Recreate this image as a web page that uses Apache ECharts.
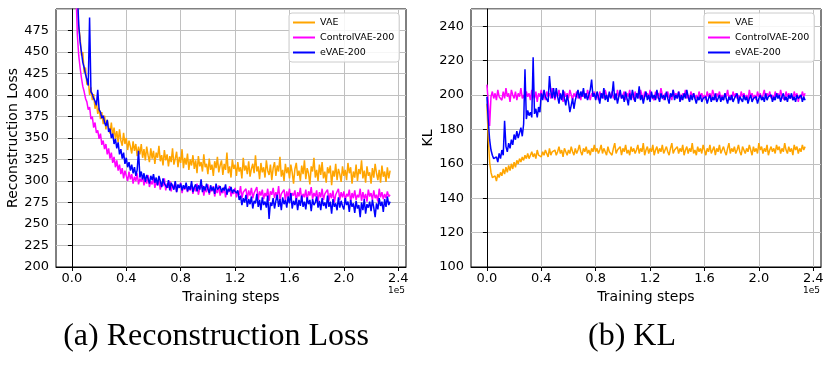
<!DOCTYPE html>
<html>
<head>
<meta charset="utf-8">
<script src="https://cdn.jsdelivr.net/npm/echarts@6.0.0/dist/echarts.min.js"></script>
<style>
  html, body { margin: 0; padding: 0; background: #fff; }
  #main { width: 830px; height: 373px; }
</style>
</head>
<body>
<div id="main"></div>
<script>
// training steps are in units of 1e5, one logged point every 0.01 (= 1000 steps)
var xTicks = [0.0, 0.4, 0.8, 1.2, 1.6, 2.0, 2.4];
var seriesNames = ['VAE', 'ControlVAE-200', 'eVAE-200'];

// (a) reconstruction loss
var lossVAE = [
  800, 700, 620, 560, 512, 478, 468, 446, 450, 426,
  432, 412, 418, 400, 409, 394, 401, 384, 392, 378,
  385, 372, 380, 366, 376, 360, 371, 363, 355, 368,
  352, 362, 349, 358, 345, 360, 347, 341, 356, 343,
  350, 336, 347, 340, 332, 346, 335, 343, 329, 340,
  331, 343, 327, 337, 324, 340, 330, 322, 338, 326,
  335, 320, 333, 327, 341, 323, 330, 318, 336, 324,
  331, 317, 329, 322, 338, 319, 326, 334, 316, 328,
  321, 337, 315, 327, 319, 332, 313, 325, 318, 330,
  314, 324, 309, 329, 317, 322, 311, 331, 316, 320,
  308, 326, 313, 319, 306, 323, 315, 328, 310, 318,
  324, 307, 320, 313, 333, 309, 317, 304, 325, 314,
  319, 306, 322, 311, 316, 303, 327, 312, 318, 308,
  323, 305, 314, 320, 309, 330, 311, 317, 302, 321,
  310, 316, 304, 324, 312, 307, 319, 301, 315, 322,
  306, 318, 311, 328, 305, 313, 300, 320, 309, 316,
  303, 319, 310, 297, 314, 321, 306, 312, 300, 318,
  308, 324, 302, 315, 309, 296, 317, 311, 327, 304,
  313, 300, 319, 307, 322, 303, 311, 298, 316, 309,
  318, 295, 312, 305, 320, 301, 314, 308, 299, 317,
  306, 313, 301, 321, 309, 316, 297, 311, 304, 319,
  300, 314, 308, 324, 303, 312, 298, 317, 306, 310,
  297, 315, 304, 320, 309, 301, 313, 298, 318, 305,
  311, 299, 316, 303, 312];
var lossControl = [
  800, 700, 600, 520, 470, 446, 432, 420, 410, 404,
  396, 392, 383, 386, 372, 375, 362, 368, 356, 359,
  349, 355, 342, 347, 337, 343, 331, 338, 326, 333,
  321, 328, 316, 324, 312, 319, 308, 315, 303, 312,
  306, 300, 311, 302, 308, 297, 305, 300, 309, 296,
  303, 299, 306, 295, 302, 297, 307, 293, 300, 296,
  304, 292, 299, 295, 301, 290, 298, 294, 303, 289,
  297, 292, 300, 288, 296, 291, 299, 287, 295, 292,
  298, 286, 294, 290, 297, 287, 293, 289, 296, 285,
  293, 288, 297, 284, 291, 289, 295, 283, 292, 287,
  296, 284, 291, 288, 294, 282, 290, 286, 295, 283,
  289, 286, 293, 281, 290, 287, 294, 282, 288, 285,
  292, 281, 288, 284, 294, 280, 287, 285, 291, 279,
  289, 283, 292, 280, 286, 284, 293, 278, 288, 283,
  290, 279, 286, 282, 291, 277, 288, 284, 292, 280,
  287, 282, 294, 278, 285, 283, 290, 277, 288, 281,
  291, 279, 286, 283, 289, 276, 287, 282, 292, 278,
  285, 281, 290, 277, 288, 283, 293, 279, 286, 282,
  289, 276, 287, 281, 291, 278, 285, 283, 290, 277,
  286, 280, 289, 275, 284, 282, 291, 278, 287, 281,
  288, 277, 285, 282, 290, 276, 286, 280, 289, 278,
  284, 281, 291, 277, 287, 279, 285, 276, 290, 282,
  286, 278, 289, 280, 284, 276, 291, 281, 287, 279,
  285, 280, 288, 282, 284];
var lossEVAE = [
  820, 740, 640, 560, 520, 482, 462, 450, 438, 432,
  424, 418, 411, 490, 404, 401, 396, 393, 388, 406,
  383, 380, 373, 376, 368, 364, 371, 357, 361, 350,
  355, 343, 349, 338, 345, 331, 337, 326, 333, 320,
  327, 316, 322, 312, 319, 309, 316, 306, 313, 335,
  304, 311, 302, 309, 299, 307, 303, 297, 306, 301,
  308, 298, 304, 295, 306, 300, 293, 303, 297, 299,
  292, 301, 289, 298, 294, 290, 300, 287, 296, 292,
  297, 289, 295, 291, 298, 288, 294, 290, 300, 287,
  293, 296, 288, 295, 290, 302, 287, 294, 289, 297,
  291, 286, 295, 289, 293, 285, 297, 290, 288, 294,
  287, 292, 289, 296, 284, 291, 288, 293, 286, 290,
  292, 286, 289, 278, 283, 272, 280, 275, 284, 270,
  279, 273, 282, 268, 277, 274, 285, 270, 278, 266,
  281, 272, 276, 269, 283, 256, 275, 271, 280, 268,
  277, 284, 270, 279, 266, 281, 273, 278, 269, 282,
  274, 286, 268, 277, 272, 280, 266, 278, 271, 283,
  270, 276, 267, 281, 273, 278, 265, 279, 272, 275,
  282, 269, 277, 266, 280, 271, 275, 268, 283, 270,
  276, 262, 279, 270, 274, 266, 281, 269, 277, 271,
  267, 280, 272, 276, 264, 278, 270, 274, 263, 277,
  268, 272, 258, 275, 266, 279, 262, 273, 269, 276,
  265, 278, 269, 258, 274, 267, 280, 271, 276, 264,
  279, 270, 282, 272, 276];

// (b) KL
var klVAE = [
  195, 175, 161, 155, 152, 151, 153, 150, 154, 152,
  155, 153, 157, 154, 158, 155, 159, 156, 160, 157,
  161, 158, 162, 160, 163, 161, 164, 162, 165, 163,
  166, 163, 165, 167, 164, 166, 163, 168, 165, 166,
  164, 167, 165, 168, 166, 164, 169, 165, 167, 166,
  168, 165, 167, 170, 166, 168, 164, 169, 167, 165,
  168, 166, 170, 167, 165, 169, 166, 168, 171, 167,
  165, 169, 167, 170, 166, 168, 165, 169, 167, 171,
  167, 169, 166, 168, 171, 166, 169, 167, 165, 170,
  167, 168, 165, 169, 172, 166, 168, 167, 170, 165,
  169, 167, 171, 166, 168, 165, 170, 167, 169, 166,
  168, 171, 166, 169, 167, 172, 165, 168, 170, 166,
  169, 167, 171, 165, 168, 170, 166, 169, 167, 171,
  166, 168, 170, 167, 165, 169, 172, 166, 168, 167,
  170, 166, 169, 167, 171, 165, 168, 170, 166, 169,
  167, 172, 166, 168, 165, 170, 167, 169, 166, 171,
  168, 165, 169, 167, 171, 166, 168, 170, 165, 169,
  167, 171, 166, 168, 170, 167, 165, 169, 172, 166,
  169, 167, 170, 166, 168, 171, 167, 165, 170, 168,
  166, 169, 167, 171, 168, 165, 170, 167, 169, 166,
  172, 168, 170, 166, 169, 167, 171, 165, 168, 170,
  167, 169, 166, 171, 168, 170, 166, 169, 167, 172,
  168, 166, 170, 167, 169, 165, 171, 168, 170, 166,
  169, 167, 171, 168, 170];
var klControl = [
  206, 196, 182, 199, 202, 198, 201, 197, 203, 199,
  200, 197, 202, 198, 204, 199, 201, 196, 203, 200,
  198, 202, 197, 201, 199, 204, 198, 200, 197, 202,
  199, 201, 197, 203, 200, 198, 202, 196, 201, 199,
  203, 198, 200, 197, 202, 199, 201, 198, 204, 200,
  197, 201, 199, 203, 198, 200, 196, 202, 199, 201,
  198, 203, 200, 197, 201, 199, 202, 198, 200, 197,
  202, 199, 201, 198, 203, 200, 197, 201, 199, 202,
  198, 200, 197, 202, 199, 201, 198, 203, 200, 197,
  201, 199, 202, 198, 200, 197, 203, 199, 201, 198,
  200, 202, 197, 201, 199, 203, 198, 200, 197, 202,
  199, 201, 198, 203, 200, 197, 202, 199, 201, 198,
  203, 199, 200, 197, 202, 198, 201, 199, 204, 200,
  197, 201, 199, 202, 198, 200, 197, 203, 199, 201,
  198, 202, 200, 197, 201, 199, 203, 198, 200, 197,
  202, 199, 201, 198, 200, 197, 202, 199, 201, 198,
  200, 197, 202, 199, 201, 198, 203, 200, 197, 201,
  199, 202, 198, 200, 197, 201, 199, 203, 198, 200,
  197, 202, 199, 201, 198, 200, 197, 202, 199, 201,
  198, 200, 197, 203, 199, 201, 198, 200, 197, 202,
  199, 201, 198, 200, 203, 198, 201, 199, 202, 198,
  200, 197, 202, 199, 201, 198, 203, 199, 200, 197,
  202, 199, 201, 198, 200, 197, 202, 199, 201, 196,
  200, 198, 202, 199, 201];
var klEVAE = [
  199, 185, 174, 168, 165, 163, 162, 164, 161, 166,
  163, 168, 165, 185, 170, 167, 172, 169, 174, 171,
  177, 174, 179, 175, 178, 181, 176, 183, 215, 186,
  191, 188, 190, 187, 222, 189, 192, 187, 193, 190,
  201, 197, 203, 199, 200, 196, 211, 202, 198, 204,
  198, 204, 199, 195, 201, 197, 203, 198, 194, 200,
  196, 190, 194, 198, 192, 197, 200, 203, 198, 202,
  199, 204, 198, 201, 197, 200, 203, 209, 199, 201,
  197, 202, 199, 195, 201, 198, 204, 197, 200, 196,
  202, 198, 200, 208, 197, 201, 195, 199, 203, 198,
  200, 196, 202, 198, 194, 201, 197, 203, 199, 196,
  201, 198, 205, 197, 200, 195, 199, 202, 197, 200,
  196, 202, 198, 200, 197, 203, 199, 196, 201, 198,
  200, 197, 202, 198, 195, 201, 199, 203, 197, 200,
  198, 202, 196, 200, 197, 201, 198, 203, 199, 196,
  200, 197, 201, 198, 195, 199, 197, 200, 196, 198,
  197, 199, 195, 198, 200, 196, 199, 197, 201, 196,
  198, 200, 196, 199, 197, 201, 198, 195, 199, 197,
  200, 196, 198, 197, 201, 195, 199, 198, 196, 200,
  197, 199, 195, 198, 200, 196, 198, 197, 199, 195,
  198, 200, 197, 199, 196, 201, 197, 199, 198, 200,
  196, 199, 197, 201, 198, 200, 196, 199, 201, 197,
  199, 196, 200, 198, 201, 197, 199, 196, 200, 198,
  197, 200, 196, 199, 197];

var colors = ['#ffa500', '#ff00ff', '#0000ff'];
var font = 'DejaVu Sans';

function pairs(vals) {
  return vals.map(function (v, i) { return [+(i * 0.01).toFixed(2), v]; });
}

var myChart = echarts.init(document.getElementById('main'), null, { renderer: 'canvas' });

function xAxisFor(gi) {
  return {
    type: 'value', gridIndex: gi, min: -0.117, max: 2.457,
    name: 'Training steps', nameLocation: 'middle', nameGap: 21,
    nameTextStyle: { fontFamily: font, fontSize: 14, color: '#000' },
    axisLine: { show: true, lineStyle: { color: '#000', width: 1 } },
    axisTick: { show: true, length: 4, customValues: xTicks, lineStyle: { color: '#000' } },
    axisLabel: { customValues: xTicks, margin: 5, fontFamily: font, fontSize: 13, color: '#000',
      formatter: function (v) { return v.toFixed(1); } },
    splitLine: { show: true, lineStyle: { color: '#c0c0c0', width: 1 } }
  };
}

function yAxisFor(gi, name, min, max, step) {
  return {
    type: 'value', gridIndex: gi, min: min, max: max, interval: step,
    name: name, nameLocation: 'middle', nameGap: 36,
    nameTextStyle: { fontFamily: font, fontSize: 14, color: '#000' },
    axisLine: { show: true, lineStyle: { color: '#000', width: 1 } },
    axisTick: { show: true, length: 4, lineStyle: { color: '#000' } },
    axisLabel: { margin: 7, fontFamily: font, fontSize: 13, color: '#000', showMaxLabel: false },
    splitLine: { show: true, lineStyle: { color: '#c0c0c0', width: 1 } }
  };
}

function legendFor(left) {
  return {
    orient: 'vertical', left: left, top: 13,
    data: seriesNames,
    icon: 'rect', itemWidth: 22, itemHeight: 2, itemGap: 4,
    padding: [4, 5, 4, 4],
    backgroundColor: 'rgba(255,255,255,0.85)',
    borderColor: '#cccccc', borderWidth: 1, borderRadius: 3,
    textStyle: { fontFamily: font, fontSize: 9.5, color: '#000', lineHeight: 11 }
  };
}

function lineSeries(name, vals, idx, gi) {
  return {
    name: name, type: 'line', xAxisIndex: gi, yAxisIndex: gi,
    data: pairs(vals), showSymbol: false, symbol: 'none', clip: true,
    lineStyle: { color: colors[idx], width: 1.5 }, itemStyle: { color: colors[idx] },
    animation: false
  };
}

var option = {
  backgroundColor: '#fff',
  animation: false,
  grid: [
    { left: 56, top: 9, width: 350, height: 258, show: true, borderColor: '#000', borderWidth: 1 },
    { left: 471, top: 9, width: 350, height: 258, show: true, borderColor: '#000', borderWidth: 1 }
  ],
  xAxis: [xAxisFor(0), xAxisFor(1)],
  yAxis: [
    yAxisFor(0, 'Reconstruction Loss', 200, 500, 25),
    yAxisFor(1, 'KL', 100, 250, 20)
  ],
  legend: [legendFor(289), legendFor(704)],
  series: [
    lineSeries('VAE', lossVAE, 0, 0),
    lineSeries('ControlVAE-200', lossControl, 1, 0),
    lineSeries('eVAE-200', lossEVAE, 2, 0),
    lineSeries('VAE', klVAE, 0, 1),
    lineSeries('ControlVAE-200', klControl, 1, 1),
    lineSeries('eVAE-200', klEVAE, 2, 1)
  ],
  graphic: [
    { type: 'text', left: 388, top: 286, style: { text: '1e5', fontFamily: font, fontSize: 9, fill: '#000' } },
    { type: 'text', left: 803, top: 286, style: { text: '1e5', fontFamily: font, fontSize: 9, fill: '#000' } },
    { type: 'text', x: 216, y: 337, style: { text: '(a) Reconstruction Loss', fontFamily: 'Liberation Serif',
      fontSize: 32, fill: '#000', align: 'center', verticalAlign: 'middle' } },
    { type: 'text', x: 632, y: 337, style: { text: '(b) KL', fontFamily: 'Liberation Serif',
      fontSize: 32, fill: '#000', align: 'center', verticalAlign: 'middle' } }
  ]
};

myChart.setOption(option);
</script>
</body>
</html>
